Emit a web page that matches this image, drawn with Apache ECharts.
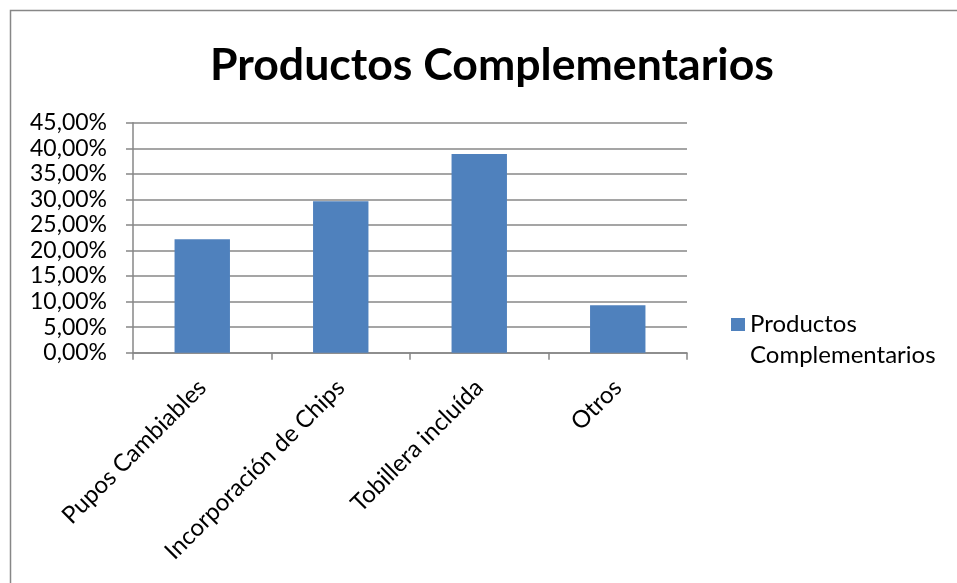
<!DOCTYPE html>
<html>
<head>
<meta charset="utf-8">
<script src="https://cdn.jsdelivr.net/npm/echarts@6/dist/echarts.min.js"></script>
<style>
  html, body { margin: 0; padding: 0; background: #fff; }
  #chart { width: 957px; height: 583px; }
</style>
</head>
<body>
<div id="chart"></div>
<script>
// Chart content
const chartTitle = 'Productos Complementarios';
const seriesName = 'Productos Complementarios';
const categories = ['Pupos Cambiables', 'Incorporación de Chips', 'Tobillera incluída', 'Otros'];
const values = [22.22, 29.63, 38.89, 9.26];   // percent
const yTicks = [0, 5, 10, 15, 20, 25, 30, 35, 40, 45];

const FONT = 'Lato';
const GRAY = '#878787';
const chart = echarts.init(document.getElementById('chart'), null, { renderer: 'canvas' });

chart.setOption({
  animation: false,
  backgroundColor: '#ffffff',
  graphic: [{
    type: 'rect',
    shape: { x: 10.5, y: 10.5, width: 1000, height: 1000 },
    style: { fill: 'none', stroke: GRAY, lineWidth: 1.5 },
    silent: true
  }],
  title: {
    text: chartTitle,
    left: 205,
    top: 38,
    textStyle: { fontFamily: FONT, fontWeight: 'bold', fontSize: 44.6, color: '#000' }
  },
  legend: {
    left: 731,
    top: 278,
    padding: 0,
    orient: 'vertical',
    itemWidth: 14,
    itemHeight: 13,
    icon: 'rect',
    // a leading empty line keeps the swatch level with the first text line
    formatter: name => ' \nProductos\nComplementarios',
    textStyle: { fontFamily: FONT, fontSize: 24, color: '#000', lineHeight: 31 }
  },
  grid: { left: 133, right: 270, top: 122.7, bottom: 230.3, containLabel: false },
  xAxis: {
    type: 'category',
    data: categories,
    boundaryGap: true,
    axisLine: { show: true, lineStyle: { color: GRAY, width: 1.5 } },
    axisTick: { show: true, length: 7, lineStyle: { color: GRAY, width: 1.5 } },
    axisLabel: {
      interval: 0,
      rotate: 45,
      margin: 31,
      fontFamily: FONT,
      fontSize: 24,
      color: '#000'
    }
  },
  yAxis: {
    type: 'value',
    min: yTicks[0],
    max: yTicks[yTicks.length - 1],
    interval: yTicks[1] - yTicks[0],
    axisLine: { show: true, lineStyle: { color: GRAY, width: 1.5 } },
    axisTick: { show: true, length: 7, lineStyle: { color: GRAY, width: 1.5 } },
    splitLine: { show: true, lineStyle: { color: GRAY, width: 1.5 } },
    axisLabel: {
      margin: 26,
      fontFamily: FONT,
      fontSize: 23,
      color: '#000',
      formatter: v => v.toFixed(2).replace('.', ',') + '%'
    }
  },
  series: [{
    name: seriesName,
    type: 'bar',
    data: values,
    barWidth: '40%',
    itemStyle: { color: '#4F81BD' }
  }]
});
</script>
</body>
</html>
